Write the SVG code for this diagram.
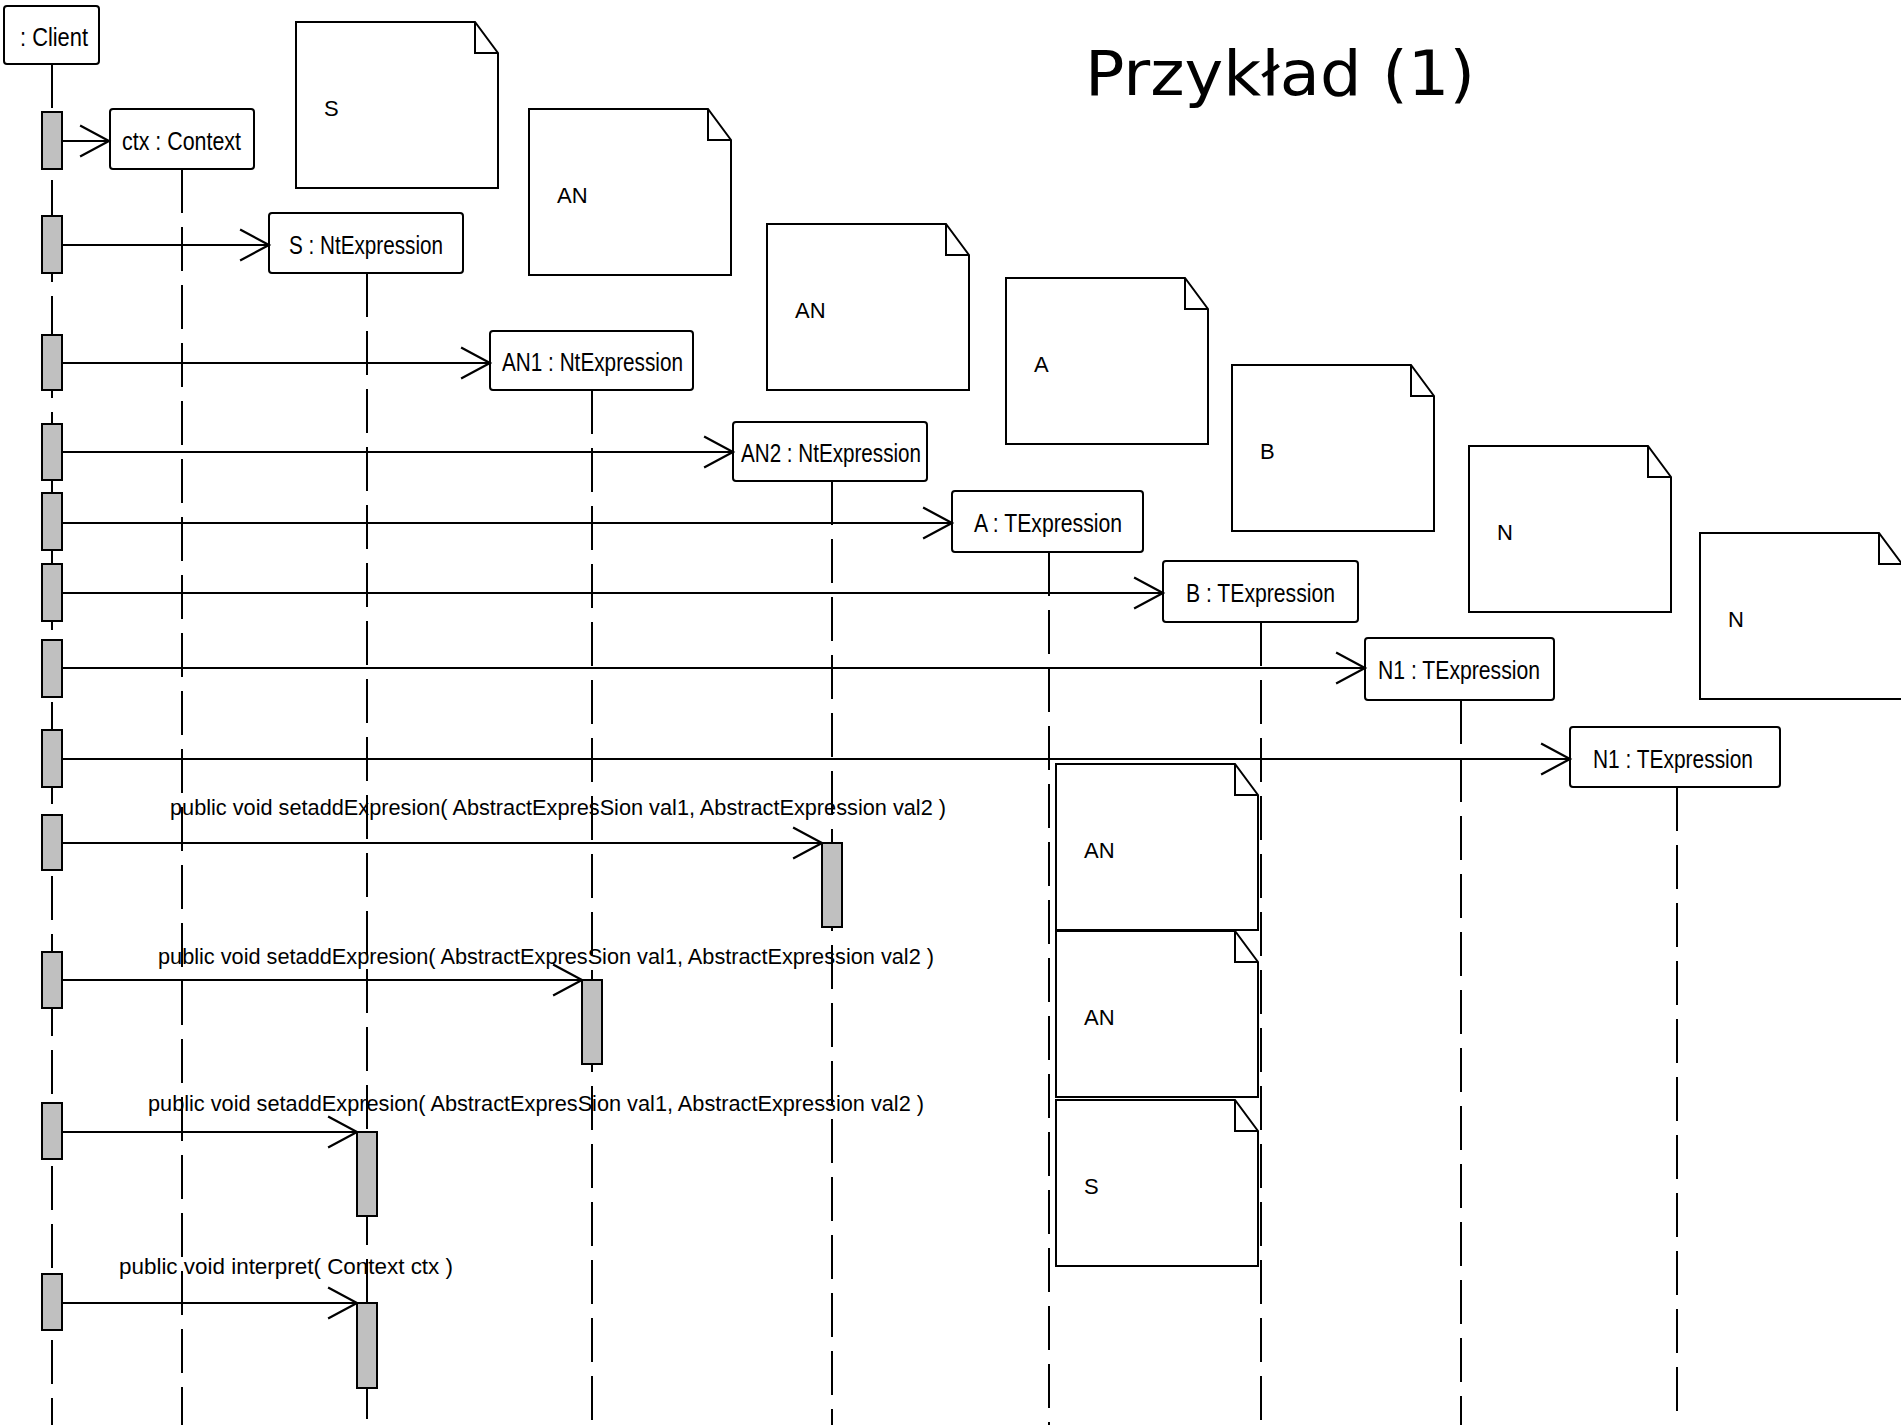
<svg xmlns="http://www.w3.org/2000/svg" width="1901" height="1425" viewBox="0 0 1901 1425">
<style>
.bg{fill:#ffffff}
.obj{fill:#ffffff;stroke:#000000;stroke-width:2}
.note{fill:#ffffff;stroke:#000000;stroke-width:2;stroke-linejoin:miter}
.fold{fill:none;stroke:#000000;stroke-width:2}
.life{stroke:#000000;stroke-width:2;stroke-dasharray:44 14;fill:none}
.bar{fill:#c0c0c0;stroke:#000000;stroke-width:2}
.msg{stroke:#000000;stroke-width:2;fill:none;marker-end:url(#open)}
.t{font-family:"Liberation Sans",Arial,sans-serif;fill:#000000}
.otxt{font-size:25px;text-anchor:start}
.ntxt{font-size:22px}
.mtxt{font-size:22px}
.title{font-family:"DejaVu Sans",Verdana,sans-serif;font-size:62px;fill:#000000}
</style>
<defs>
<marker id="open" markerUnits="userSpaceOnUse" markerWidth="40" markerHeight="40" viewBox="-30 -18 34 36" refX="0" refY="0" orient="auto" overflow="visible">
<path d="M-26,-14 L0,0 L-26,14" fill="none" stroke="#000000" stroke-width="2"/>
</marker>
<g id="notebody">
<path class="note" d="M0,0 H179 L202,31 V166 H0 Z"/>
<path class="fold" d="M179,0 V31 H202"/>
</g>
</defs>
<rect class="bg" x="0" y="0" width="1901" height="1425"/>

<text class="title" x="1085" y="95" textLength="390" lengthAdjust="spacingAndGlyphs">Przykład (1)</text>

<g id="notes">
<g id="note-S1" transform="translate(296,22)"><use href="#notebody"/><text class="t ntxt" x="28" y="94">S</text></g>
<g id="note-AN1" transform="translate(529,109)"><use href="#notebody"/><text class="t ntxt" x="28" y="94">AN</text></g>
<g id="note-AN2" transform="translate(767,224)"><use href="#notebody"/><text class="t ntxt" x="28" y="94">AN</text></g>
<g id="note-A" transform="translate(1006,278)"><use href="#notebody"/><text class="t ntxt" x="28" y="94">A</text></g>
<g id="note-B" transform="translate(1232,365)"><use href="#notebody"/><text class="t ntxt" x="28" y="94">B</text></g>
<g id="note-N1" transform="translate(1469,446)"><use href="#notebody"/><text class="t ntxt" x="28" y="94">N</text></g>
<g id="note-N2" transform="translate(1700,533)"><use href="#notebody"/><text class="t ntxt" x="28" y="94">N</text></g>
<g id="note-AN3" transform="translate(1056,764)"><use href="#notebody"/><text class="t ntxt" x="28" y="94">AN</text></g>
<g id="note-AN4" transform="translate(1056,931)"><use href="#notebody"/><text class="t ntxt" x="28" y="94">AN</text></g>
<g id="note-S2" transform="translate(1056,1100)"><use href="#notebody"/><text class="t ntxt" x="28" y="94">S</text></g>
</g>

<g id="lifelines">
<line class="life" x1="52" y1="64" x2="52" y2="1425"/>
<line class="life" x1="182" y1="169" x2="182" y2="1425"/>
<line class="life" x1="367" y1="273" x2="367" y2="1425"/>
<line class="life" x1="592" y1="390" x2="592" y2="1425"/>
<line class="life" x1="832" y1="481" x2="832" y2="1425"/>
<line class="life" x1="1049" y1="552" x2="1049" y2="1425"/>
<line class="life" x1="1261" y1="622" x2="1261" y2="1425"/>
<line class="life" x1="1461" y1="700" x2="1461" y2="1425"/>
<line class="life" x1="1677" y1="787" x2="1677" y2="1425"/>
</g>

<g id="client">
<rect class="obj" x="4" y="6" width="95" height="58" rx="3"/>
<text class="t otxt" x="20" y="46" textLength="68" lengthAdjust="spacingAndGlyphs">: Client</text>
</g>
<g id="ctx">
<rect class="obj" x="110" y="109" width="144" height="60" rx="3"/>
<text class="t otxt" x="122" y="150" textLength="119" lengthAdjust="spacingAndGlyphs">ctx : Context</text>
</g>
<g id="S-NtExpression">
<rect class="obj" x="269" y="213" width="194" height="60" rx="3"/>
<text class="t otxt" x="289" y="254" textLength="154" lengthAdjust="spacingAndGlyphs">S : NtExpression</text>
</g>
<g id="AN1-NtExpression">
<rect class="obj" x="490" y="331" width="203" height="59" rx="3"/>
<text class="t otxt" x="502" y="371" textLength="181" lengthAdjust="spacingAndGlyphs">AN1 : NtExpression</text>
</g>
<g id="AN2-NtExpression">
<rect class="obj" x="733" y="422" width="194" height="59" rx="3"/>
<text class="t otxt" x="741" y="462" textLength="180" lengthAdjust="spacingAndGlyphs">AN2 : NtExpression</text>
</g>
<g id="A-TExpression">
<rect class="obj" x="952" y="491" width="191" height="61" rx="3"/>
<text class="t otxt" x="974" y="532" textLength="148" lengthAdjust="spacingAndGlyphs">A : TExpression</text>
</g>
<g id="B-TExpression">
<rect class="obj" x="1163" y="561" width="195" height="61" rx="3"/>
<text class="t otxt" x="1186" y="602" textLength="149" lengthAdjust="spacingAndGlyphs">B : TExpression</text>
</g>
<g id="N1-TExpression-1">
<rect class="obj" x="1365" y="638" width="189" height="62" rx="3"/>
<text class="t otxt" x="1378" y="679" textLength="162" lengthAdjust="spacingAndGlyphs">N1 : TExpression</text>
</g>
<g id="N1-TExpression-2">
<rect class="obj" x="1570" y="727" width="210" height="60" rx="3"/>
<text class="t otxt" x="1593" y="768" textLength="160" lengthAdjust="spacingAndGlyphs">N1 : TExpression</text>
</g>

<g id="connectors">
<line class="msg" x1="62" y1="141" x2="109" y2="141"/>
<line class="msg" x1="62" y1="245" x2="269" y2="245"/>
<line class="msg" x1="62" y1="363" x2="490" y2="363"/>
<line class="msg" x1="62" y1="452" x2="733" y2="452"/>
<line class="msg" x1="62" y1="523" x2="952" y2="523"/>
<line class="msg" x1="62" y1="593" x2="1163" y2="593"/>
<line class="msg" x1="62" y1="668" x2="1365" y2="668"/>
<line class="msg" x1="62" y1="759" x2="1570" y2="759"/>
<line class="msg" x1="62" y1="843" x2="822" y2="843"/>
<line class="msg" x1="62" y1="980" x2="582" y2="980"/>
<line class="msg" x1="62" y1="1132" x2="357" y2="1132"/>
<line class="msg" x1="62" y1="1303" x2="357" y2="1303"/>
<text class="t mtxt" x="170" y="815" textLength="776" lengthAdjust="spacingAndGlyphs">public void  setaddExpresion( AbstractExpresSion val1, AbstractExpression val2 )</text>
<text class="t mtxt" x="158" y="964" textLength="776" lengthAdjust="spacingAndGlyphs">public void  setaddExpresion( AbstractExpresSion val1, AbstractExpression val2 )</text>
<text class="t mtxt" x="148" y="1111" textLength="776" lengthAdjust="spacingAndGlyphs">public void  setaddExpresion( AbstractExpresSion val1, AbstractExpression val2 )</text>
<text class="t mtxt" x="119" y="1274" textLength="334" lengthAdjust="spacingAndGlyphs">public void  interpret( Context ctx )</text>
</g>

<g id="activations">
<rect class="bar" x="42" y="112" width="20" height="57"/>
<rect class="bar" x="42" y="216" width="20" height="57"/>
<rect class="bar" x="42" y="335" width="20" height="55"/>
<rect class="bar" x="42" y="424" width="20" height="56"/>
<rect class="bar" x="42" y="493" width="20" height="57"/>
<rect class="bar" x="42" y="564" width="20" height="57"/>
<rect class="bar" x="42" y="640" width="20" height="57"/>
<rect class="bar" x="42" y="730" width="20" height="57"/>
<rect class="bar" x="42" y="815" width="20" height="55"/>
<rect class="bar" x="42" y="952" width="20" height="56"/>
<rect class="bar" x="42" y="1103" width="20" height="56"/>
<rect class="bar" x="42" y="1274" width="20" height="56"/>
<rect class="bar" x="822" y="843" width="20" height="84"/>
<rect class="bar" x="582" y="980" width="20" height="84"/>
<rect class="bar" x="357" y="1132" width="20" height="84"/>
<rect class="bar" x="357" y="1303" width="20" height="85"/>
</g>
</svg>
